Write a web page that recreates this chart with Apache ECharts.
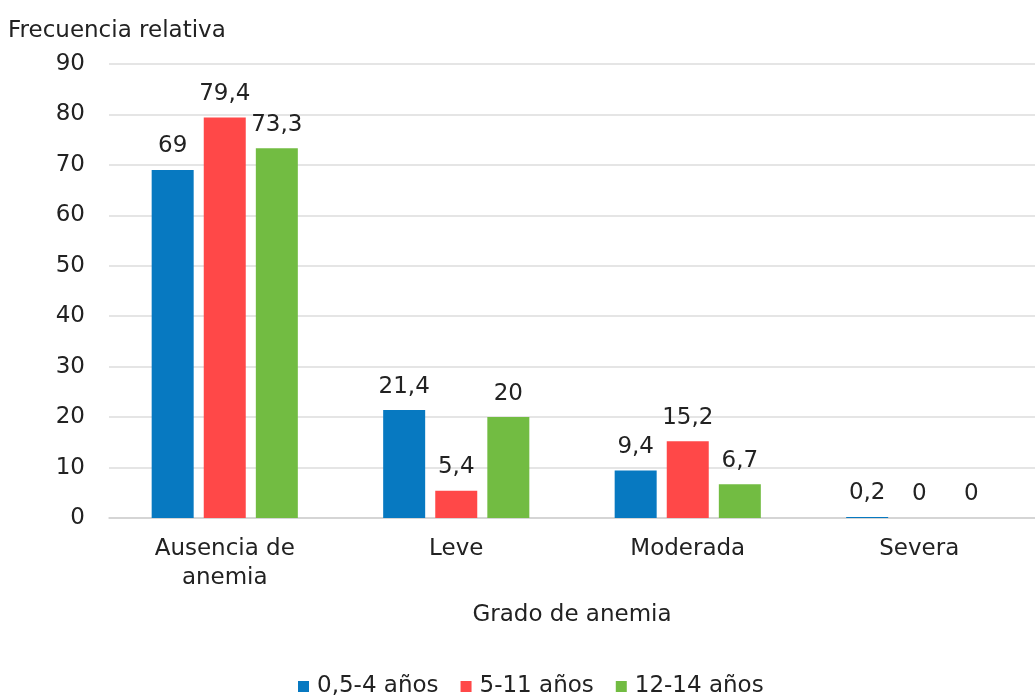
<!DOCTYPE html>
<html>
<head>
<meta charset="utf-8">
<script src="https://cdn.jsdelivr.net/npm/echarts@6/dist/echarts.min.js"></script>
<style>
    html, body { margin: 0; padding: 0; background: #fff; }
    #chart { width: 1035px; height: 695px; }
</style>
</head>
<body>
<div id="chart"></div>
<script>
    // categorias y series
    const categories = ['Ausencia de\nanemia', 'Leve', 'Moderada', 'Severa'];
    const seriesNames = ['0,5-4 años', '5-11 años', '12-14 años'];
    const data0 = [69, 21.4, 9.4, 0.2];
    const data5 = [79.4, 5.4, 15.2, 0];
    const data12 = [73.3, 20, 6.7, 0];
    const colors = ['#0779C1', '#FF4848', '#72BC42'];

    const font = 'DejaVu Sans, Verdana, sans-serif';
    const fs = 23;
    const fmt = p => String(p.value).replace('.', ',');

    function makeSeries(name, data, color) {
        return {
            name: name,
            type: 'bar',
            data: data,
            barWidth: 42,
            barGap: '24%',
            itemStyle: { color: color },
            label: {
                show: true,
                position: 'top',
                distance: 12,
                formatter: fmt,
                color: '#222',
                fontSize: fs,
                fontFamily: font
            }
        };
    }

    const chart = echarts.init(document.getElementById('chart'));
    chart.setOption({
        animation: false,
        title: {
            text: 'Frecuencia relativa',
            left: 8,
            top: 20,
            padding: 0,
            textStyle: { fontSize: fs, fontWeight: 'normal', color: '#222', fontFamily: font }
        },
        grid: { left: 109, right: -12, top: 64, bottom: 177 },
        legend: {
            left: 298,
            top: 675,
            padding: 0,
            itemWidth: 11,
            itemHeight: 11,
            itemGap: 22,
            icon: 'rect',
            textStyle: { fontSize: fs, color: '#222', fontFamily: font, padding: [0, 0, 0, 3] },
            data: seriesNames
        },
        xAxis: {
            type: 'category',
            data: categories,
            name: 'Grado de anemia',
            nameLocation: 'middle',
            nameGap: 86,
            nameTextStyle: { fontSize: fs, color: '#222', fontFamily: font },
            axisLine: { lineStyle: { color: '#cfcfcf', width: 1.5 } },
            axisTick: { show: false },
            axisLabel: { fontSize: fs, color: '#222', fontFamily: font, margin: 17, lineHeight: 29 }
        },
        yAxis: {
            type: 'value',
            min: 0,
            max: 90,
            interval: 10,
            axisLine: { show: false },
            axisTick: { show: false },
            axisLabel: { fontSize: fs, color: '#222', fontFamily: font, margin: 24 },
            splitLine: { lineStyle: { color: '#dcdcdc', width: 1.5 } }
        },
        series: [
            makeSeries(seriesNames[0], data0, colors[0]),
            makeSeries(seriesNames[1], data5, colors[1]),
            makeSeries(seriesNames[2], data12, colors[2])
        ]
    });
</script>
</body>
</html>
